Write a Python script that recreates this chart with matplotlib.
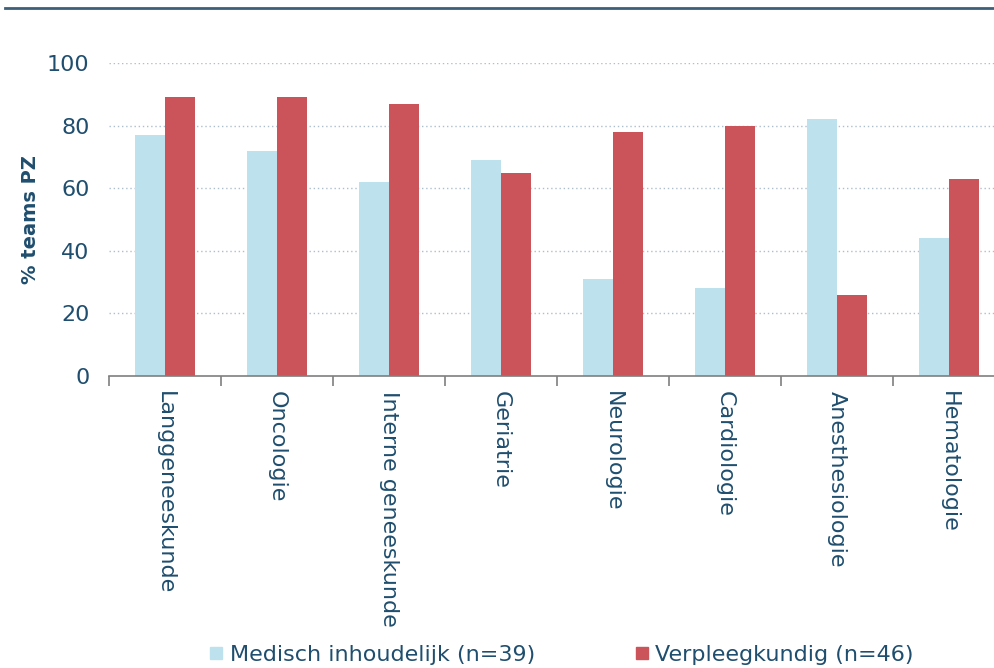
import numpy as np
import matplotlib.pyplot as plt
from matplotlib.lines import Line2D

categories = ["Langgeneeskunde", "Oncologie", "Interne geneeskunde", "Geriatrie",
              "Neurologie", "Cardiologie", "Anesthesiologie", "Hematologie"]
medisch = [77, 72, 62, 69, 31, 28, 82, 44]
verpleeg = [89, 89, 87, 65, 78, 80, 26, 63]
series_labels = ["Medisch inhoudelijk (n=39)", "Verpleegkundig (n=46)"]
y_ticks = [0, 20, 40, 60, 80, 100]

blue = "#bde2ee"
red = "#cb545b"
txt = "#1f4e6e"

plt.rcParams['font.family'] = ['DejaVu Sans']

fig = plt.figure(figsize=(9.94, 6.68), dpi=100)
ax = fig.add_axes([109 / 994, 1 - 376 / 668, 896 / 994, 313 / 668])

x = np.arange(len(categories))
w = 0.27
ax.bar(x - w / 2, medisch, width=w, color=blue, zorder=2)
ax.bar(x + w / 2, verpleeg, width=w, color=red, zorder=2)

ax.set_xlim(-0.5, len(categories) - 0.5)
ax.set_ylim(0, 100)
ax.set_yticks(y_ticks)
ax.set_yticklabels([str(v) for v in y_ticks], fontsize=16, color=txt)
ax.tick_params(axis='y', length=0, pad=14)

# boundaries as major ticks, labels on minor ticks
ax.set_xticks(np.arange(len(categories) + 1) - 0.5)
ax.set_xticklabels([])
ax.tick_params(axis='x', which='major', length=7, width=1.2, color='#7f7f7f', direction='out')
ax.set_xticks(x, minor=True)
ax.set_xticklabels(categories, minor=True, rotation=-90, fontsize=16, color=txt, va='top')
ax.tick_params(axis='x', which='minor', length=0, pad=11)

for s in ['top', 'right', 'left']:
    ax.spines[s].set_visible(False)
ax.spines['bottom'].set_color('#7f7f7f')
ax.spines['bottom'].set_linewidth(1.2)

for v in y_ticks[1:]:
    ax.axhline(v, color='#aebfcc', lw=1.0, ls=(0, (1, 2)), zorder=1)

ax.set_ylabel("% teams PZ", fontsize=14, fontweight='bold', color=txt, labelpad=5)

fig.add_artist(Line2D([5 / 994, 1], [1 - 8 / 668, 1 - 8 / 668], color='#3d5f78', lw=2))

handles = [Line2D([], [], marker='s', ls='none', markersize=8, color=blue),
           Line2D([], [], marker='s', ls='none', markersize=8, color=red)]
leg = fig.legend(handles, series_labels, loc='center', bbox_to_anchor=(0.565, 1 - 655 / 668),
                 ncol=2, frameon=False, fontsize=16, handlelength=0.6, handletextpad=0.3,
                 columnspacing=4.5)
for t in leg.get_texts():
    t.set_color(txt)

fig.savefig("out.png", dpi=100)
